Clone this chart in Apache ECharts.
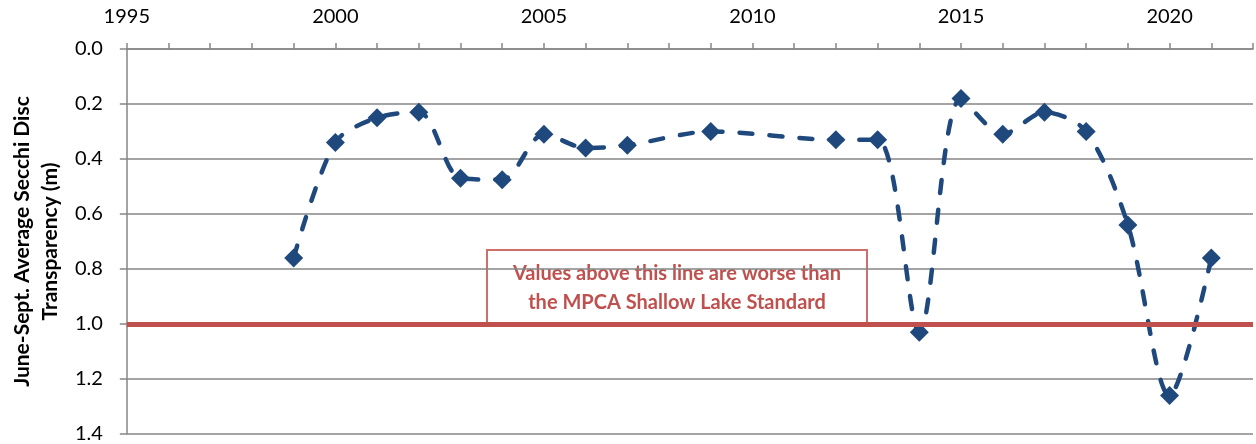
<!DOCTYPE html>
<html>
<head>
<meta charset="utf-8">
<script src="https://cdn.jsdelivr.net/npm/echarts@6/dist/echarts.min.js"></script>
<style>
  html, body { margin: 0; padding: 0; background: #fff; }
  #main { width: 1256px; height: 444px; }
</style>
</head>
<body>
<div id="main"></div>
<script>
// data
var years = [1999, 2000, 2001, 2002, 2003, 2004, 2005, 2006, 2007, 2009, 2012, 2013, 2014, 2015, 2016, 2017, 2018, 2019, 2020, 2021];
var secchi = [0.76, 0.34, 0.25, 0.23, 0.47, 0.475, 0.31, 0.36, 0.35, 0.30, 0.33, 0.33, 1.03, 0.18, 0.31, 0.23, 0.30, 0.64, 1.26, 0.76];
var standard = 1.0;
var noteLines = ['Values above this line are worse than', 'the MPCA Shallow Lake Standard'];

var font = 'Lato, "Open Sans", sans-serif';
var chart = echarts.init(document.getElementById('main'));

var points = [];
for (var i = 0; i < years.length; i++) {
    points.push([years[i], secchi[i]]);
}

var option = {
    animation: false,
    textStyle: { fontFamily: font },
    grid: { left: 122, right: -6, top: 49, bottom: 9, containLabel: false },
    xAxis: {
        type: 'value',
        position: 'top',
        min: 1995,
        max: 2022,
        interval: 1,
        axisLine: { show: true, lineStyle: { color: '#868686', width: 1.5 } },
        axisTick: { show: true, inside: false, length: 6, lineStyle: { color: '#868686', width: 1.5 } },
        axisLabel: {
            color: '#000', fontSize: 20, fontFamily: font, margin: 22,
            formatter: function (v) { return v % 5 === 0 ? String(v) : ''; }
        },
        splitLine: { show: false }
    },
    yAxis: {
        type: 'value',
        inverse: true,
        min: 0,
        max: 1.4,
        interval: 0.2,
        name: 'June-Sept. Average Secchi Disc\nTransparency (m)',
        nameLocation: 'middle',
        nameRotate: 90,
        nameGap: 58,
        nameTextStyle: { color: '#000', fontSize: 21, fontWeight: 'bold', fontFamily: font, lineHeight: 28 },
        axisLine: { show: true, lineStyle: { color: '#868686', width: 1.5 } },
        axisTick: { show: true, inside: false, length: 7, lineStyle: { color: '#868686', width: 1.5 } },
        axisLabel: {
            color: '#000', fontSize: 20, fontFamily: font, margin: 24,
            formatter: function (v) { return v.toFixed(1); }
        },
        splitLine: { show: true, lineStyle: { color: '#868686', width: 1.5 } }
    },
    series: [
        {
            type: 'line',
            data: points,
            smooth: 0.3,
            symbol: 'diamond',
            symbolSize: 19,
            itemStyle: { color: '#1F497D' },
            lineStyle: { color: '#1F497D', width: 4.5, type: [13, 17], cap: 'round' },
            markLine: {
                silent: true,
                symbol: 'none',
                label: { show: false },
                lineStyle: { color: '#C0504D', width: 5, type: 'solid' },
                data: [{ yAxis: standard }]
            },
            z: 3
        }
    ],
    graphic: [
        {
            type: 'group',
            left: 486,
            top: 249,
            children: [
                {
                    type: 'rect',
                    shape: { x: 0, y: 0, width: 380, height: 73 },
                    style: { fill: '#fff', stroke: '#CF6F6C', lineWidth: 2 }
                },
                {
                    type: 'text',
                    x: 190,
                    y: 38,
                    style: {
                        text: noteLines.join('\n'),
                        align: 'center',
                        verticalAlign: 'middle',
                        fill: '#C0504D',
                        font: 'bold 20px ' + font,
                        lineHeight: 29
                    }
                }
            ],
            z: 10
        }
    ]
};

option && chart.setOption(option);
</script>
</body>
</html>
